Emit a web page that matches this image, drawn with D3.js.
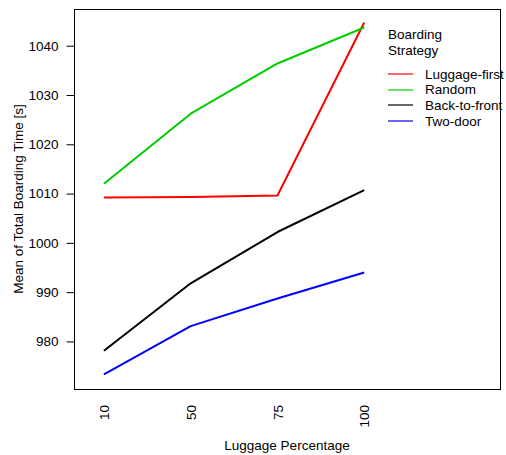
<!DOCTYPE html>
<html>
<head>
<meta charset="utf-8">
<script src="https://cdn.jsdelivr.net/npm/d3@7"></script>
<style>
  html, body { margin: 0; padding: 0; background: #fff; }
  svg { display: block; }
  text { font-family: "Liberation Sans", Arial, sans-serif; fill: #000; }
</style>
</head>
<body>
<svg id="chart" width="506" height="455"></svg>
<script>
// ---- data ----
const categories = ["10", "50", "75", "100"];
const seriesNames = ["Luggage-first", "Random", "Back-to-front", "Two-door"];
const luggageFirst = [1009.2, 1009.3, 1009.6, 1044.7];
const random = [1012.0, 1026.2, 1036.4, 1043.7];
const backToFront = [978.1, 991.8, 1002.2, 1010.7];
const twoDoor = [973.3, 983.1, 988.7, 994.0];
const yTicks = [980, 990, 1000, 1010, 1020, 1030, 1040];
const colors = ["#ff0000", "#00cd00", "#000000", "#0000ff"];

const seriesValues = [luggageFirst, random, backToFront, twoDoor];

// ---- layout ----
const svg = d3.select("#chart");
const box = { left: 74, right: 500, top: 9, bottom: 389 };
const fontSize = 13.5;

// x: category index positions (R interaction.plot style, extra room at right for legend)
const x = d3.scaleLinear().domain([0.655, 5.565]).range([box.left, box.right]);
const y = d3.scaleLinear().domain([970.35, 1047.45]).range([box.bottom, box.top]);

// plot frame
svg.append("rect")
  .attr("x", box.left + 0.5).attr("y", box.top + 0.5)
  .attr("width", box.right - box.left).attr("height", box.bottom - box.top)
  .attr("fill", "none").attr("stroke", "#000").attr("stroke-width", 1);

// y axis
const yAxis = d3.axisLeft(y).tickValues(yTicks).tickSize(8).tickPadding(8).tickFormat(d3.format("d"));
const gy = svg.append("g").attr("transform", `translate(${box.left + 0.5},0)`).call(yAxis);
gy.select(".domain").remove();
gy.selectAll(".tick line").attr("stroke", "#000");
gy.selectAll(".tick text").style("font-size", fontSize + "px").attr("fill", "#000");

// x axis labels (rotated, no tick marks)
const xAxis = d3.axisBottom(x).tickValues([1, 2, 3, 4]).tickSize(0).tickFormat((d, i) => categories[i]);
const gx = svg.append("g").attr("transform", `translate(0,${box.bottom})`).call(xAxis);
gx.select(".domain").remove();
gx.selectAll(".tick line").remove();
gx.selectAll(".tick text")
  .style("font-size", fontSize + "px")
  .attr("fill", "#000")
  .attr("text-anchor", "end")
  .attr("dy", "0.35em")
  .attr("y", 0)
  .attr("transform", "translate(0,16) rotate(-90)");

// axis titles
svg.append("text")
  .attr("x", (box.left + box.right) / 2).attr("y", 450)
  .attr("text-anchor", "middle")
  .style("font-size", fontSize + "px")
  .text("Luggage Percentage");

svg.append("text")
  .attr("transform", `translate(23,${(box.top + box.bottom) / 2}) rotate(-90)`)
  .attr("text-anchor", "middle")
  .style("font-size", fontSize + "px")
  .text("Mean of Total Boarding Time [s]");

// lines
const line = d3.line().x((d, i) => x(i + 1)).y(d => y(d));
seriesValues.forEach((vals, k) => {
  svg.append("path")
    .datum(vals)
    .attr("d", line)
    .attr("fill", "none")
    .attr("stroke", colors[k])
    .attr("stroke-width", 2)
    .attr("stroke-linejoin", "round");
});

// legend
const lg = svg.append("g");
lg.append("text").attr("x", 388).attr("y", 34).attr("dy", "0.35em")
  .style("font-size", fontSize + "px").text("Boarding");
lg.append("text").attr("x", 388).attr("y", 50.5).attr("dy", "0.35em")
  .style("font-size", fontSize + "px").text("Strategy");
seriesNames.forEach((name, k) => {
  const yy = 74 + k * 15.6;
  lg.append("line")
    .attr("x1", 388).attr("x2", 413)
    .attr("y1", Math.round(yy)).attr("y2", Math.round(yy))
    .attr("stroke", colors[k]).attr("stroke-width", 1.2);
  lg.append("text").attr("x", 425).attr("y", yy).attr("dy", "0.35em")
    .style("font-size", fontSize + "px").text(name);
});
</script>
</body>
</html>
